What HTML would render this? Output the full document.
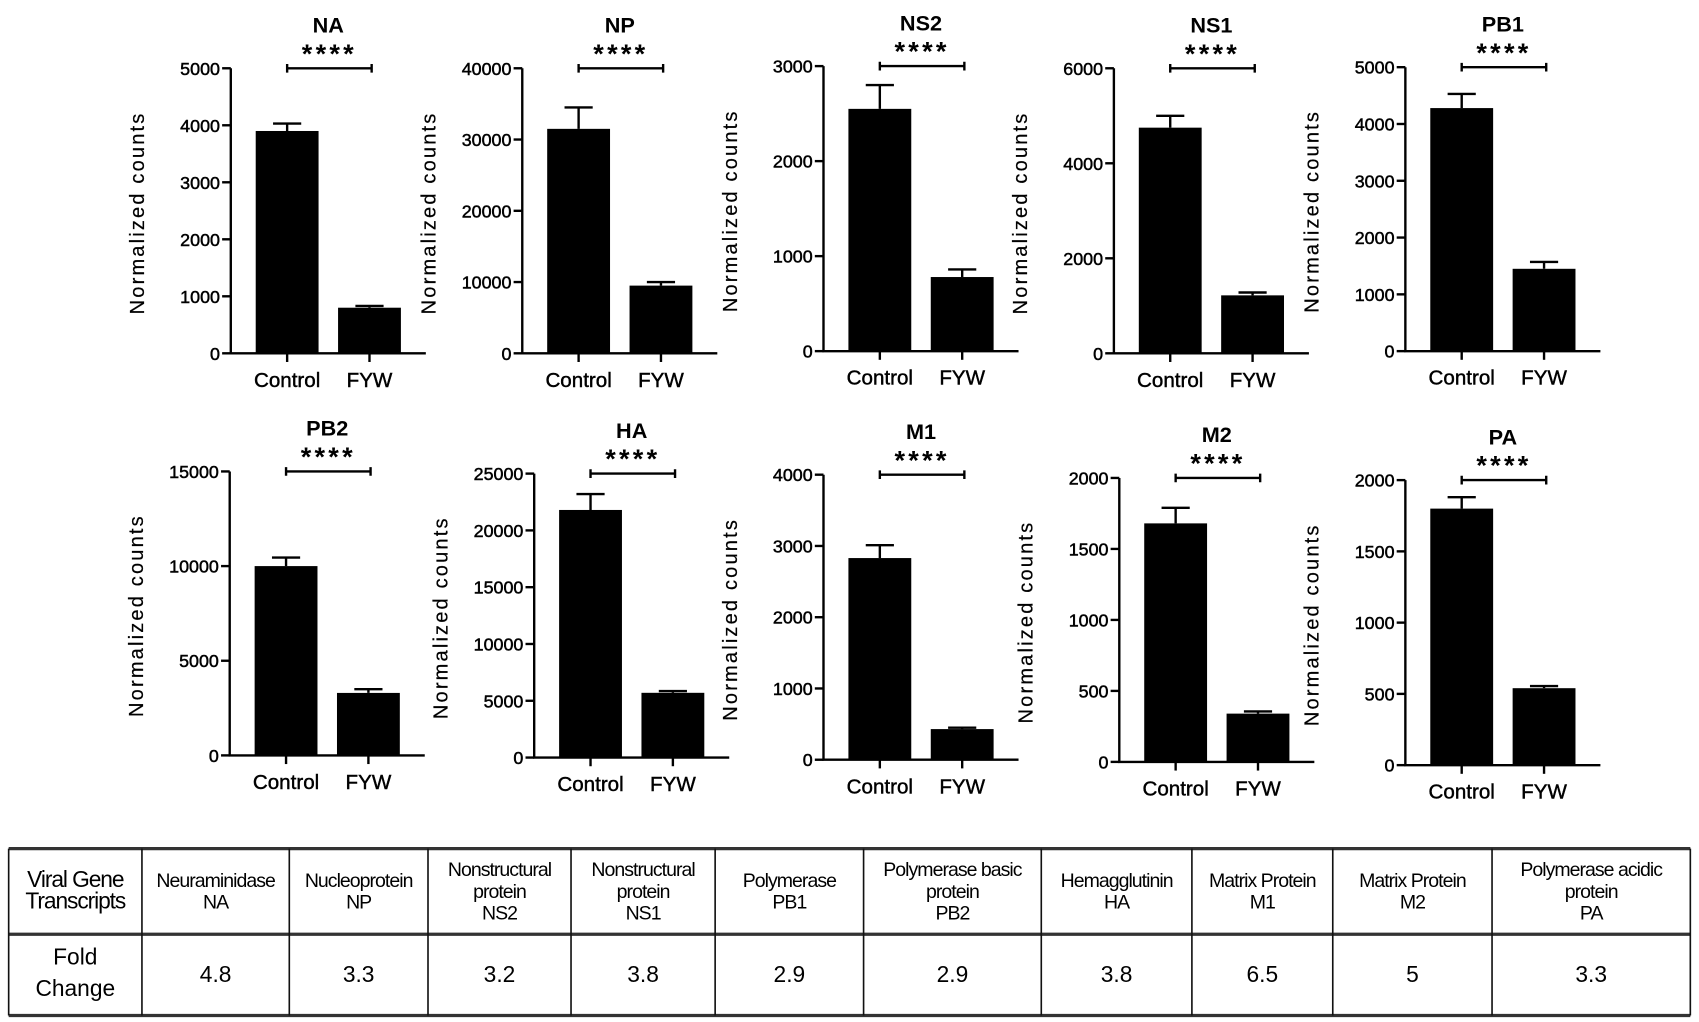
<!DOCTYPE html>
<html><head><meta charset="utf-8"><style>
html,body{margin:0;padding:0;background:#fff;}
svg{display:block;font-family:"Liberation Sans",Arial,sans-serif;}
</style></head><body>
<svg id="fig" width="1699" height="1022" viewBox="0 0 1568 943" preserveAspectRatio="none" xmlns="http://www.w3.org/2000/svg"></svg>
<script>
const genes = ["NA","NP","NS2","NS1","PB1","PB2","HA","M1","M2","PA"];
const controlMeans = [3900,31500,2550,4750,4280,10000,21800,2830,1680,1800];
const controlErr = [130,3000,250,250,250,450,1400,180,110,80];
const fywMeans = [800,9500,780,1220,1450,3300,5700,430,340,540];
const fywErr = [30,500,80,60,120,200,150,20,15,15];
const yMax = [5000,40000,3000,6000,5000,15000,25000,4000,2000,2000];
const yStep = [1000,10000,1000,2000,1000,5000,5000,1000,500,500];
const groups = ["Control","FYW"];
const tableHeaders = [["Viral Gene","Transcripts"],["Neuraminidase","NA"],["Nucleoprotein","NP"],["Nonstructural","protein","NS2"],["Nonstructural","protein","NS1"],["Polymerase","PB1"],["Polymerase basic","protein","PB2"],["Hemagglutinin","HA"],["Matrix Protein","M1"],["Matrix Protein","M2"],["Polymerase acidic","protein","PA"]];
const foldChange = ["4.8","3.3","3.2","3.8","2.9","2.9","3.8","6.5","5","3.3"];

const layout = [
 {ax:213,top:63,zero:326},{ax:482,top:63,zero:326},{ax:760,top:61,zero:324},{ax:1028,top:63,zero:326},{ax:1297,top:62,zero:324},
 {ax:212,top:435,zero:697},{ax:493,top:437,zero:699},{ax:760,top:438,zero:701},{ax:1033,top:441,zero:703},{ax:1297,top:443,zero:706}
];
const svg = document.getElementById('fig');
const NS = "http://www.w3.org/2000/svg";
function mk(tag, attrs, parent){const e=document.createElementNS(NS,tag);for(const k in attrs)e.setAttribute(k,attrs[k]);(parent||svg).appendChild(e);return e;}
function txt(s, attrs, parent){const e=mk('text',attrs,parent);e.textContent=s;return e;}

genes.forEach((g,i)=>{
  const L = layout[i];
  const grp = mk('g',{});
  
  
  const y = v => L.zero - v/yMax[i]*(L.zero-L.top);
  const cx = [L.ax+52, L.ax+128];
  const bw = 58;
  const ya = mk('line',{x1:L.ax,y1:L.top,x2:L.ax,y2:L.zero,stroke:'#000','stroke-width':2.2},grp);
  
  
  const xa = mk('line',{x1:L.ax-1,y1:L.zero,x2:L.ax+180,y2:L.zero,stroke:'#000','stroke-width':2.2},grp);
  
  
  for(let v=0; v<=yMax[i]; v+=yStep[i]){
    mk('line',{x1:L.ax-8,y1:y(v),x2:L.ax,y2:y(v),stroke:'#000','stroke-width':2.2},grp);
    const t = txt(String(v),{x:L.ax-10,y:y(v)+6,'text-anchor':'end','font-size':16.5,stroke:'#000','stroke-width':0.45},grp);
    
    
  }
  const means=[controlMeans[i],fywMeans[i]], errs=[controlErr[i],fywErr[i]];
  groups.forEach((gn,j)=>{
    const b = mk('rect',{x:cx[j]-bw/2,y:y(means[j]),width:bw,height:L.zero-y(means[j]),fill:'#000'},grp);
    
    
    const e1 = mk('path',{d:`M${cx[j]},${y(means[j])} V${y(means[j]+errs[j])} M${cx[j]-13},${y(means[j]+errs[j])} H${cx[j]+13}`,stroke:'#000','stroke-width':2.2,fill:'none'},grp);
    
    
    mk('line',{x1:cx[j],y1:L.zero,x2:cx[j],y2:L.zero+8,stroke:'#000','stroke-width':2.2},grp);
    const xl = txt(gn,{x:cx[j],y:L.zero+31,'text-anchor':'middle','font-size':19,stroke:'#000','stroke-width':0.4},grp);
    
    
  });
  const br = mk('path',{d:`M${cx[0]},${L.top-4} V${L.top+4} M${cx[0]},${L.top} H${cx[1]+2} M${cx[1]+2},${L.top-4} V${L.top+4}`,stroke:'#000','stroke-width':2.2,fill:'none'},grp);
  
  
  const st = txt('****',{x:(cx[0]+cx[1])/2+1,y:L.top-5,'text-anchor':'middle','font-size':25,'font-weight':'bold','letter-spacing':3},grp);
  
  
  const ti = txt(g,{x:(cx[0]+cx[1])/2,y:L.top-33,'text-anchor':'middle','font-size':20,'font-weight':'bold'},grp);
  
  
  const ymid=(L.top+L.zero)/2;
  const yt = txt('Normalized counts',{x:0,y:0,transform:`translate(${L.ax-80},${ymid+2}) rotate(-90)`,'text-anchor':'middle','font-size':18.5,'letter-spacing':2,stroke:'#000','stroke-width':0.2},grp);
  
  
});

const colX = [8,131,267,395,527,660,797,961,1100,1230,1377,1560];
const tTop=783, tMid=862, tBot=937;
const tb = mk('g',{});


mk('line',{x1:colX[0],y1:tTop,x2:colX[11],y2:tTop,stroke:'#333','stroke-width':3},tb);
mk('line',{x1:colX[0],y1:tMid,x2:colX[11],y2:tMid,stroke:'#333','stroke-width':3},tb);
mk('line',{x1:colX[0],y1:tBot,x2:colX[11],y2:tBot,stroke:'#333','stroke-width':3},tb);
colX.forEach(x=>mk('line',{x1:x,y1:tTop,x2:x,y2:tBot,stroke:'#111','stroke-width':1.5},tb));
tableHeaders.forEach((lines,k)=>{
  const cxx=(colX[k]+colX[k+1])/2;
  const n=lines.length, lh=20;
  const y0=(tTop+tMid)/2 - (n-1)*lh/2 + 6;
  lines.forEach((s,m)=>{
    const t=txt(s,{x:cxx,y:y0+m*lh,'text-anchor':'middle','font-size':k==0?21:18,'letter-spacing':k==0?-1:-0.9},tb);
    
    
  });
});
const fc1=txt('Fold',{x:(colX[0]+colX[1])/2,y:890,'text-anchor':'middle','font-size':21},tb);


const fc2=txt('Change',{x:(colX[0]+colX[1])/2,y:919,'text-anchor':'middle','font-size':21},tb);


foldChange.forEach((v,k)=>{
  const t=txt(v,{x:(colX[k+1]+colX[k+2])/2,y:906,'text-anchor':'middle','font-size':21},tb);
  
  
});
</script>
</body></html>
